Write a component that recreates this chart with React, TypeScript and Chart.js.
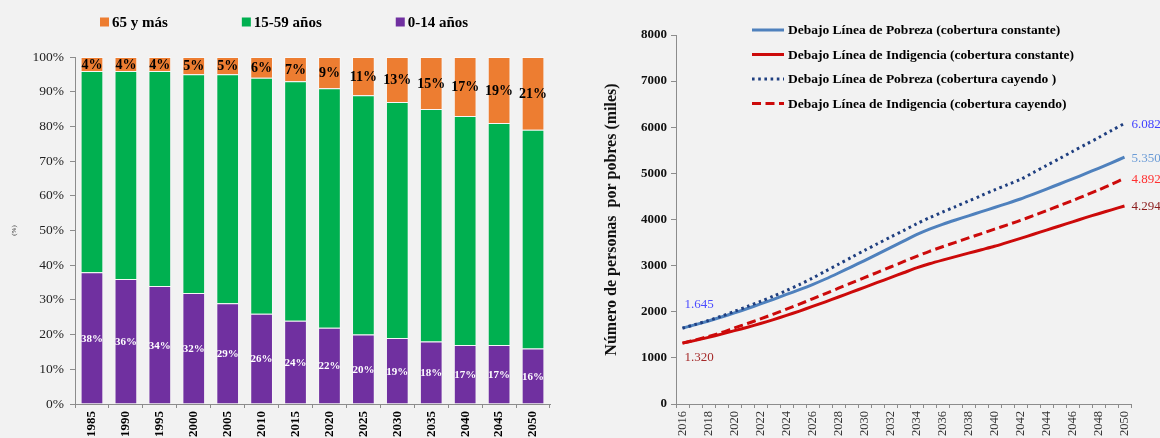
import React, { useEffect, useRef } from 'react';
import { Chart, registerables } from 'chart.js';

Chart.register(...registerables);

const SERIF = '"Liberation Serif", "Times New Roman", Times, serif';
const PAGE_BG = '#f2f2f2';

// ---- Age structure (stacked 100% bars) ----
const ageYears = ['1985', '1990', '1995', '2000', '2005', '2010', '2015', '2020', '2025', '2030', '2035', '2040', '2045', '2050'];
const share0to14 = [38, 36, 34, 32, 29, 26, 24, 22, 20, 19, 18, 17, 17, 16];
const share15to59 = [58, 60, 62, 63, 66, 68, 69, 69, 69, 68, 67, 66, 64, 63];
const share65plus = [4, 4, 4, 5, 5, 6, 7, 9, 11, 13, 15, 17, 19, 21];
const pctTicks = [0, 10, 20, 30, 40, 50, 60, 70, 80, 90, 100];

// ---- Poor population projection (thousands) ----
const projYears = [
  '2016', '2017', '2018', '2019', '2020', '2021', '2022', '2023', '2024', '2025', '2026', '2027',
  '2028', '2029', '2030', '2031', '2032', '2033', '2034', '2035', '2036', '2037', '2038', '2039',
  '2040', '2041', '2042', '2043', '2044', '2045', '2046', '2047', '2048', '2049', '2050',
];
const pobrezaConstante = [
  1645, 1720, 1800, 1885, 1975, 2070, 2170, 2270, 2375, 2480, 2590, 2710,
  2840, 2975, 3110, 3250, 3390, 3530, 3670, 3790, 3895, 3990, 4080, 4170,
  4260, 4350, 4445, 4550, 4660, 4770, 4880, 4995, 5110, 5230, 5350,
];
const indigenciaConstante = [
  1320, 1380, 1445, 1515, 1590, 1665, 1745, 1830, 1920, 2015, 2115, 2215,
  2320, 2425, 2530, 2635, 2740, 2845, 2950, 3040, 3120, 3195, 3270, 3345,
  3420, 3505, 3590, 3680, 3770, 3860, 3950, 4040, 4125, 4210, 4294,
];
const pobrezaCayendo = [
  1645, 1725, 1810, 1905, 2010, 2115, 2225, 2340, 2460, 2590, 2730, 2880,
  3030, 3180, 3330, 3475, 3620, 3760, 3905, 4040, 4160, 4280, 4400, 4520,
  4640, 4755, 4870, 5020, 5170, 5320, 5475, 5625, 5775, 5930, 6082,
];
const indigenciaCayendo = [
  1320, 1390, 1465, 1550, 1650, 1745, 1845, 1950, 2055, 2165, 2280, 2395,
  2510, 2625, 2740, 2855, 2970, 3085, 3200, 3310, 3410, 3505, 3600, 3695,
  3790, 3885, 3980, 4085, 4190, 4300, 4410, 4525, 4640, 4765, 4892,
];
const countTicks = [0, 1000, 2000, 3000, 4000, 5000, 6000, 7000, 8000];

const endLabelColors = ['#6a9bd6', '#8b1c1c', '#4040ff', '#ff3030'];
const startLabelColors = ['#4d4dff', '#a52a2a', null, null];

// Spanish thousands separator: 1645 -> "1.645"
function fmtMiles(v: number): string {
  const th = Math.floor(v / 1000);
  const rest = Math.round(v % 1000);
  return th > 0 ? `${th}.${String(rest).padStart(3, '0')}` : String(rest);
}

// Value labels centred inside the purple and orange segments
const stackLabelsPlugin = {
  id: 'stackLabels',
  afterDatasetsDraw(chart: any) {
    const ctx = chart.ctx;
    ctx.save();
    ctx.textAlign = 'center';
    ctx.textBaseline = 'middle';
    chart.data.datasets.forEach((ds: any, di: number) => {
      if (!ds.valueLabel) return;
      const meta = chart.getDatasetMeta(di);
      ctx.font = `bold ${ds.valueLabel.size}px ${SERIF}`;
      ctx.fillStyle = ds.valueLabel.color;
      meta.data.forEach((bar: any, i: number) => {
        const yMid = (bar.y + bar.base) / 2;
        ctx.fillText(`${ds.data[i]}%`, bar.x, yMid + 1);
      });
    });
    ctx.restore();
  },
};

// Horizontal legend row above the stacked bars (top segment listed first)
const ageLegendPlugin = {
  id: 'ageLegend',
  afterDraw(chart: any) {
    const ctx = chart.ctx;
    const items = [...chart.data.datasets].reverse();
    ctx.save();
    ctx.font = `bold 15px ${SERIF}`;
    ctx.textBaseline = 'middle';
    const box = 9;
    const gap = 74;
    let x = chart.chartArea.left + 25;
    const y = 22;
    items.forEach((ds: any) => {
      ctx.fillStyle = ds.backgroundColor;
      ctx.fillRect(x, y - box / 2, box, box);
      ctx.fillStyle = '#000';
      ctx.textAlign = 'left';
      ctx.fillText(ds.label, x + box + 3, y + 1);
      x += box + 3 + ctx.measureText(ds.label).width + gap;
    });
    ctx.restore();
  },
};

// Line legend stacked in the upper part of the plot
const lineLegendPlugin = {
  id: 'lineLegend',
  afterDraw(chart: any) {
    const ctx = chart.ctx;
    const { left, top } = chart.chartArea;
    ctx.save();
    ctx.font = `bold 13.5px ${SERIF}`;
    ctx.textBaseline = 'middle';
    ctx.textAlign = 'left';
    chart.data.datasets.forEach((ds: any, i: number) => {
      const y = top - 5 + i * 24.5;
      const x0 = left + 76;
      ctx.strokeStyle = ds.borderColor;
      ctx.lineWidth = 3;
      ctx.setLineDash(ds.borderDash || []);
      ctx.beginPath();
      ctx.moveTo(x0, y);
      ctx.lineTo(x0 + 32, y);
      ctx.stroke();
      ctx.setLineDash([]);
      ctx.fillStyle = '#000';
      ctx.fillText(ds.label, x0 + 36, y + 1);
    });
    ctx.restore();
  },
};

// First and last values written next to the line ends
const lineEndsPlugin = {
  id: 'lineEnds',
  afterDatasetsDraw(chart: any) {
    const ctx = chart.ctx;
    ctx.save();
    ctx.font = `13px ${SERIF}`;
    ctx.textBaseline = 'middle';
    ctx.textAlign = 'left';
    chart.data.datasets.forEach((ds: any, di: number) => {
      const pts = chart.getDatasetMeta(di).data;
      const last = pts[pts.length - 1];
      ctx.fillStyle = endLabelColors[di];
      ctx.fillText(fmtMiles(ds.data[ds.data.length - 1]), last.x + 7, last.y + 1);
      const sc = startLabelColors[di];
      if (sc) {
        const first = pts[0];
        ctx.fillStyle = sc;
        const dy = di === 0 ? -24 : 14;
        ctx.fillText(fmtMiles(ds.data[0]), first.x + 2, first.y + dy);
      }
    });
    ctx.restore();
  },
};

const AXIS_GREY = '#8c8c8c';

function AgeChart() {
  const ref = useRef<HTMLCanvasElement | null>(null);
  useEffect(() => {
    if (!ref.current) return;
    const chart = new Chart(ref.current, {
      type: 'bar',
      data: {
        labels: ageYears,
        datasets: [
          {
            label: '0-14 años',
            data: share0to14,
            backgroundColor: '#7030a0',
            borderColor: 'rgba(255,255,255,0.35)',
            borderWidth: 1,
            valueLabel: { color: '#ffffff', size: 11 },
          } as any,
          {
            label: '15-59 años',
            data: share15to59,
            backgroundColor: '#00b050',
            borderColor: 'rgba(255,255,255,0.35)',
            borderWidth: 1,
          },
          {
            label: '65 y más',
            data: share65plus,
            backgroundColor: '#ed7d31',
            borderColor: 'rgba(255,255,255,0.45)',
            borderWidth: 1,
            valueLabel: { color: '#000000', size: 14 },
          } as any,
        ],
      },
      options: {
        animation: false,
        responsive: false,
        maintainAspectRatio: false,
        layout: { padding: { top: 57, right: 25, bottom: 0, left: 0 } },
        datasets: { bar: { categoryPercentage: 0.67, barPercentage: 1 } },
        plugins: { legend: { display: false }, tooltip: { enabled: false } },
        scales: {
          x: {
            stacked: true,
            grid: { display: true, drawOnChartArea: false, drawTicks: true, tickLength: 4, color: AXIS_GREY, offset: true },
            border: { display: true, color: AXIS_GREY, width: 1 },
            ticks: {
              autoSkip: false,
              minRotation: 90,
              maxRotation: 90,
              padding: 3,
              color: '#000',
              font: { family: SERIF, size: 13, weight: 'bold' },
            },
            afterFit: (s: any) => { s.height = 34; },
          },
          y: {
            stacked: true,
            min: 0,
            max: 100,
            afterBuildTicks: (s: any) => { s.ticks = pctTicks.map((v) => ({ value: v })); },
            grid: { display: true, drawOnChartArea: false, drawTicks: true, tickLength: 5, color: AXIS_GREY },
            border: { display: true, color: AXIS_GREY, width: 1 },
            ticks: {
              padding: 6,
              color: '#222',
              font: { family: SERIF, size: 13.5 },
              callback: (v: any) => `${v}%`,
            },
            title: {
              display: true,
              text: '(%)',
              color: '#333',
              font: { family: SERIF, size: 7 },
              padding: { top: 10, bottom: 0 },
            },
            afterFit: (s: any) => { s.width = 75; },
          },
        },
      } as any,
      plugins: [stackLabelsPlugin, ageLegendPlugin],
    });
    return () => chart.destroy();
  }, []);
  return <canvas ref={ref} width={575} height={438} style={{ position: 'absolute', left: 0, top: 0, width: 575, height: 438 }} />;
}

function PovertyChart() {
  const ref = useRef<HTMLCanvasElement | null>(null);
  useEffect(() => {
    if (!ref.current) return;
    const common = { pointRadius: 0, pointHoverRadius: 0, borderWidth: 3, tension: 0.3, fill: false };
    const chart = new Chart(ref.current, {
      type: 'line',
      data: {
        labels: projYears,
        datasets: [
          { ...common, label: 'Debajo Línea de Pobreza (cobertura constante)', data: pobrezaConstante, borderColor: '#4f81bd', backgroundColor: '#4f81bd', order: 3 },
          { ...common, label: 'Debajo Línea de Indigencia (cobertura constante)', data: indigenciaConstante, borderColor: '#cc0a0a', backgroundColor: '#cc0a0a', order: 2 },
          { ...common, label: 'Debajo Línea de Pobreza (cobertura cayendo )', data: pobrezaCayendo, borderColor: '#1f3f80', backgroundColor: '#1f3f80', borderDash: [2.6, 3.6], order: 1 },
          { ...common, label: 'Debajo Línea de Indigencia (cobertura cayendo)', data: indigenciaCayendo, borderColor: '#cc0a0a', backgroundColor: '#cc0a0a', borderDash: [9, 4.5], order: 0 },
        ],
      },
      options: {
        animation: false,
        responsive: false,
        maintainAspectRatio: false,
        layout: { padding: { top: 35, right: 29, bottom: 0, left: 0 } },
        plugins: { legend: { display: false }, tooltip: { enabled: false } },
        scales: {
          x: {
            offset: true,
            grid: { display: true, drawOnChartArea: false, drawTicks: true, tickLength: 4, color: AXIS_GREY, offset: true },
            border: { display: true, color: AXIS_GREY, width: 1 },
            ticks: {
              autoSkip: false,
              minRotation: 90,
              maxRotation: 90,
              padding: 3,
              color: '#333',
              font: { family: SERIF, size: 12.5 },
              callback: (_v: any, i: number) => (i % 2 === 0 ? projYears[i] : ''),
            },
            afterFit: (s: any) => { s.height = 34; },
          },
          y: {
            min: 0,
            max: 8000,
            afterBuildTicks: (s: any) => { s.ticks = countTicks.map((v) => ({ value: v })); },
            grid: { display: true, drawOnChartArea: false, drawTicks: true, tickLength: 5, color: AXIS_GREY },
            border: { display: true, color: AXIS_GREY, width: 1 },
            ticks: {
              padding: 4,
              color: '#111',
              font: { family: SERIF, size: 13, weight: 'bold' },
              callback: (v: any) => String(v),
            },
            title: {
              display: true,
              text: 'Número de personas  por pobres (miles)',
              color: '#111',
              font: { family: SERIF, size: 16, weight: 'bold' },
              padding: { top: 22, bottom: 0 },
            },
            afterFit: (s: any) => { s.width = 96; },
          },
        },
      } as any,
      plugins: [lineEndsPlugin, lineLegendPlugin],
    });
    return () => chart.destroy();
  }, []);
  return <canvas ref={ref} width={580} height={438} style={{ position: 'absolute', left: 580, top: 0, width: 580, height: 438 }} />;
}

export default function App() {
  return (
    <div style={{ position: 'fixed', left: 0, top: 0, width: 1160, height: 438, background: PAGE_BG, overflow: 'hidden' }}>
      <AgeChart />
      <PovertyChart />
    </div>
  );
}
